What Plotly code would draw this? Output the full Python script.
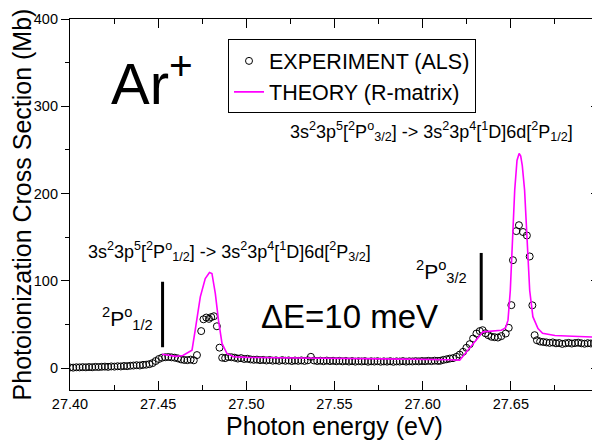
import plotly.graph_objects as go

# ---------------- data ----------------
exp_energy = [
    27.4000, 27.4018, 27.4036, 27.4054, 27.4072, 27.4090, 27.4108, 27.4126, 27.4144, 27.4162,
    27.4180, 27.4198, 27.4216, 27.4234, 27.4252, 27.4270, 27.4288, 27.4306, 27.4324, 27.4342,
    27.4360, 27.4378, 27.4396, 27.4414, 27.4432, 27.4450, 27.4468, 27.4486, 27.4504, 27.4522,
    27.4540, 27.4558, 27.4576, 27.4594, 27.4612, 27.4630, 27.4648, 27.4666, 27.4684, 27.4702,
    27.4720, 27.4744, 27.4757, 27.4773, 27.4788, 27.4801, 27.4816, 27.4833, 27.4848, 27.4863,
    27.4880, 27.4898, 27.4916, 27.4934, 27.4952, 27.4970, 27.4988, 27.5006, 27.5024, 27.5042,
    27.5060, 27.5078, 27.5096, 27.5114, 27.5132, 27.5150, 27.5168, 27.5186, 27.5204, 27.5222,
    27.5240, 27.5258, 27.5276, 27.5294, 27.5312, 27.5330, 27.5348, 27.5366, 27.5384, 27.5402,
    27.5420, 27.5438, 27.5456, 27.5474, 27.5492, 27.5510, 27.5528, 27.5546, 27.5564, 27.5582,
    27.5600, 27.5618, 27.5636, 27.5654, 27.5672, 27.5690, 27.5708, 27.5726, 27.5744, 27.5762,
    27.5780, 27.5798, 27.5816, 27.5834, 27.5852, 27.5870, 27.5888, 27.5906, 27.5924, 27.5942,
    27.5960, 27.5978, 27.5996, 27.6014, 27.6032, 27.6050, 27.6068, 27.6086, 27.6100, 27.6118,
    27.6136, 27.6154, 27.6172, 27.6192, 27.6210, 27.6229, 27.6248, 27.6267, 27.6286, 27.6305,
    27.6324, 27.6340, 27.6356, 27.6372, 27.6390, 27.6408, 27.6427, 27.6446, 27.6471, 27.6488,
    27.6503, 27.6512, 27.6531, 27.6546, 27.6569, 27.6591, 27.6607, 27.6622, 27.6635, 27.6648,
    27.6666, 27.6684, 27.6702, 27.6720, 27.6738, 27.6756, 27.6774, 27.6792, 27.6810, 27.6828,
    27.6846, 27.6864, 27.6882, 27.6900, 27.6918, 27.6936, 27.6954, 27.6972, 27.6990,
]
exp_cross = [
    0.8, 0.6, 1.0, 0.9, 1.2, 1.0, 1.3, 1.1, 1.5, 1.3,
    1.6, 1.8, 1.5, 2.0, 1.8, 2.2, 2.0, 2.5, 2.3, 2.8,
    3.0, 3.4, 3.1, 3.8, 4.0, 4.6, 5.8, 8.2, 10.5, 12.0,
    12.5, 12.8, 12.4, 12.0, 11.2, 10.0, 9.4, 9.2, 9.8, 9.0,
    15.0, 42.5, 56.0, 58.0, 56.5, 58.5, 59.5, 48.0, 23.5, 12.0,
    11.5, 12.8, 12.5, 12.0, 11.0, 11.5, 10.5, 10.8, 10.0, 9.6,
    9.8, 9.2, 9.5, 8.8, 9.4, 8.6, 9.0, 8.4, 9.2, 8.5,
    8.9, 8.2, 8.8, 8.4, 8.9, 8.3, 9.0, 13.0, 8.8, 8.2,
    8.6, 8.0, 8.7, 8.1, 8.5, 7.9, 8.4, 7.8, 8.3, 7.6,
    8.2, 7.5, 8.0, 7.7, 8.1, 7.4, 7.9, 7.6, 8.0, 7.4,
    7.8, 7.5, 8.0, 7.3, 7.8, 7.6, 8.1, 7.5, 7.9, 7.7,
    8.1, 7.8, 8.2, 8.0, 8.4, 8.1, 8.6, 8.3, 8.5, 9.5,
    10.2, 11.0, 11.5, 13.0, 15.5, 18.7, 23.3, 27.5, 34.0, 39.7,
    42.5, 43.5, 40.0, 37.8, 36.0, 35.5, 35.1, 36.7, 39.7, 46.2,
    72.2, 123.7, 157.0, 163.8, 156.0, 152.0, 128.0, 72.0, 37.8, 32.0,
    30.5, 30.0, 29.5, 29.0, 29.5, 28.5, 28.8, 27.8, 28.5, 29.0,
    28.2, 28.8, 29.2, 28.5, 28.0, 28.6, 28.3, 28.5, 28.2,
]

theory_energy = [
    27.4522, 27.4560, 27.4600, 27.4640, 27.4663, 27.4692, 27.4710, 27.4739, 27.4767, 27.4791,
    27.4805, 27.4824, 27.4842, 27.4862, 27.4890, 27.4927, 27.5000, 27.5300, 27.5600, 27.5900,
    27.6150, 27.6210, 27.6342, 27.6400, 27.6446, 27.6470, 27.6484, 27.6497, 27.6509, 27.6522,
    27.6535, 27.6547, 27.6556, 27.6565, 27.6578, 27.6591, 27.6607, 27.6625, 27.6654, 27.6680,
    27.6750, 27.6850, 27.7000,
]
theory_cross = [
    16.0, 15.0, 13.5, 14.5, 16.8, 20.6, 43.5, 81.7, 102.7, 109.6,
    108.5, 85.6, 55.0, 28.3, 16.8, 13.0, 12.4, 12.0, 11.2, 10.4,
    9.6, 9.2, 41.6, 42.2, 43.5, 46.0, 55.0, 89.0, 146.0, 204.0,
    238.0, 246.0, 243.0, 232.0, 204.0, 147.0, 89.0, 59.0, 45.5, 40.0,
    37.5, 36.5, 35.5,
]

threshold_energy = [27.4525, 27.6332]
threshold_low = [24, 55]
threshold_high = [99, 132]

x_tickvals = [27.40, 27.45, 27.50, 27.55, 27.60, 27.65]
x_ticktext = ["27.40", "27.45", "27.50", "27.55", "27.60", "27.65"]
y_tickvals = [0, 100, 200, 300, 400]

FONT = "Liberation Sans, Arial, Helvetica, sans-serif"

fig = go.Figure()

fig.add_trace(go.Scatter(
    x=exp_energy, y=exp_cross, mode="markers", name="EXPERIMENT (ALS)",
    marker=dict(symbol="circle-open", size=7, color="black", line=dict(width=1, color="black")),
))
fig.add_trace(go.Scatter(
    x=theory_energy, y=theory_cross, mode="lines", name="THEORY (R-matrix)",
    line=dict(color="#ff00ff", width=1.6),
))
# dummy trace so the right-hand mirror axis renders
fig.add_trace(go.Scatter(x=[None], y=[None], yaxis="y2", showlegend=False, hoverinfo="skip"))

for e, lo, hi in zip(threshold_energy, threshold_low, threshold_high):
    fig.add_shape(type="line", x0=e, x1=e, y0=lo, y1=hi, xref="x", yref="y",
                  line=dict(color="black", width=3))

ann_font = dict(family=FONT, size=18, color="black")
annotations = [
    dict(text="Ar<sup>+</sup>", x=0.155, y=0.836, font=dict(family=FONT, size=58, color="black")),
    dict(text="3s<sup>2</sup>3p<sup>5</sup>[<sup>2</sup>P<sup>o</sup><sub>3/2</sub>] -> "
              "3s<sup>2</sup>3p<sup>4</sup>[<sup>1</sup>D]6d[<sup>2</sup>P<sub>1/2</sub>]",
         x=0.684, y=0.697, font=ann_font),
    dict(text="3s<sup>2</sup>3p<sup>5</sup>[<sup>2</sup>P<sup>o</sup><sub>1/2</sub>] -> "
              "3s<sup>2</sup>3p<sup>4</sup>[<sup>1</sup>D]6d[<sup>2</sup>P<sub>3/2</sub>]",
         x=0.302, y=0.373, font=ann_font),
    dict(text="<sup>2</sup>P<sup>o</sup><sub>1/2</sub>", x=0.109, y=0.194,
         font=dict(family=FONT, size=21, color="black")),
    dict(text="<sup>2</sup>P<sup>o</sup><sub>3/2</sub>", x=0.702, y=0.319,
         font=dict(family=FONT, size=21, color="black")),
    dict(text="ΔE=10 meV", x=0.529, y=0.197, font=dict(family=FONT, size=33, color="black")),
]
for a in annotations:
    fig.add_annotation(xref="paper", yref="paper", showarrow=False,
                       xanchor="center", yanchor="middle", **a)

# page body has an 8px default margin, so the figure is 8px smaller on each axis
fig.update_layout(
    width=592, height=432,
    margin=dict(l=62, r=1, t=11, b=50),
    paper_bgcolor="white", plot_bgcolor="white",
    font=dict(family=FONT, color="black"),
    showlegend=True,
    legend=dict(
        x=0.2987, y=0.945, xanchor="left", yanchor="top",
        bgcolor="white", bordercolor="black", borderwidth=1,
        font=dict(family=FONT, size=21.5, color="black"),
        tracegroupgap=0,
    ),
    xaxis=dict(
        range=[27.40, 27.70], tickvals=x_tickvals, ticktext=x_ticktext,
        ticks="inside", ticklen=9, tickwidth=1, tickcolor="black",
        minor=dict(dtick=0.025, tick0=27.40, ticks="inside", ticklen=5, tickcolor="black"),
        showline=True, linecolor="black", linewidth=1.2, mirror="ticks",
        showgrid=False, zeroline=False,
        tickfont=dict(family=FONT, size=14.5, color="black"),
        title=dict(text="Photon energy (eV)", font=dict(family=FONT, size=25, color="black"), standoff=0),
    ),
    yaxis=dict(
        range=[-25, 400], tickvals=y_tickvals,
        ticks="outside", ticklen=8, tickwidth=1, tickcolor="black",
        minor=dict(dtick=50, tick0=0, ticks="outside", ticklen=4, tickcolor="black"),
        showline=True, linecolor="black", linewidth=1.2, mirror=True,
        showgrid=False, zeroline=False,
        tickfont=dict(family=FONT, size=14.5, color="black"),
        title=dict(text="Photoionization Cross Section (Mb)", font=dict(family=FONT, size=25, color="black"), standoff=4),
    ),
    yaxis2=dict(
        overlaying="y", side="right", anchor="x", range=[-25, 400], tickvals=y_tickvals,
        ticks="inside", ticklen=8, tickcolor="black", showticklabels=False,
        minor=dict(dtick=50, tick0=0, ticks="inside", ticklen=4, tickcolor="black"),
        showgrid=False, zeroline=False, showline=False,
    ),
)

fig.write_html("out.html")
